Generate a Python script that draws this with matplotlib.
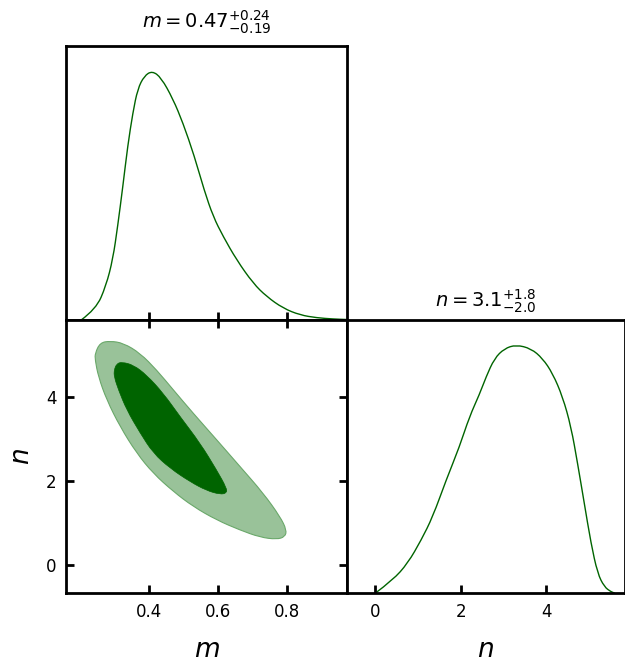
import numpy as np
import matplotlib
matplotlib.use("Agg")
import matplotlib.pyplot as plt
from matplotlib.path import Path
from matplotlib.patches import PathPatch

# 1D marginal of m (normalised to peak = 1)
m_grid = [0.203, 0.246, 0.275, 0.295, 0.309, 0.324, 0.338, 0.353, 0.367, 0.386,
          0.409, 0.435, 0.469, 0.498, 0.531, 0.560, 0.586, 0.615, 0.654,
          0.702, 0.741, 0.789, 0.838, 0.886, 0.934, 0.973]
m_dens = [0.0, 0.044, 0.137, 0.245, 0.378, 0.538, 0.699, 0.833, 0.928, 0.980,
          1.0, 0.973, 0.888, 0.792, 0.659, 0.520, 0.415, 0.335, 0.241,
          0.147, 0.094, 0.047, 0.020, 0.009, 0.004, 0.002]

# 1D marginal of n
n_grid = [0.0, 0.405, 0.756, 1.069, 1.340, 1.654, 1.965, 2.199, 2.433, 2.59,
          2.784, 3.018, 3.291, 3.642, 3.913, 4.147, 4.381, 4.578, 4.732, 4.889,
          5.046, 5.200, 5.357, 5.513, 5.60]
n_dens = [0.0, 0.052, 0.120, 0.213, 0.307, 0.455, 0.589, 0.710, 0.80, 0.871,
          0.945, 0.985, 1.0, 0.985, 0.945, 0.885, 0.791, 0.670, 0.522, 0.361,
          0.200, 0.079, 0.025, 0.005, 0.0]

# 2D contours (95% outer, 68% inner), boundary points in (m, n)
outer_m = [0.2435, 0.258, 0.287, 0.3255, 0.374, 0.422, 0.470, 0.528, 0.596, 0.664,
           0.731, 0.780, 0.799, 0.794, 0.770, 0.722, 0.664, 0.596, 0.528, 0.470,
           0.412, 0.364, 0.316, 0.277, 0.253, 0.2435]
outer_n = [5.04, 5.29, 5.33, 5.28, 5.04, 4.64, 4.17, 3.61, 2.98, 2.34,
           1.71, 1.15, 0.83, 0.67, 0.61, 0.66, 0.83, 1.07, 1.39, 1.75,
           2.18, 2.66, 3.29, 3.93, 4.48, 4.88]
inner_m = [0.2986, 0.306, 0.321, 0.3545, 0.393, 0.441, 0.490, 0.548, 0.596, 0.625,
           0.625, 0.606, 0.567, 0.519, 0.461, 0.412, 0.374, 0.335, 0.311, 0.2986]
inner_n = [4.64, 4.79, 4.83, 4.76, 4.52, 4.09, 3.53, 2.90, 2.26, 1.83,
           1.71, 1.68, 1.77, 1.98, 2.30, 2.66, 3.14, 3.69, 4.17, 4.48]

m_lim = (0.159, 0.974)
n_lim = (-0.667, 5.83)
m_ticks = [0.4, 0.6, 0.8]
n_ticks = [0, 2, 4]

title_m = r"$m = 0.47^{+0.24}_{-0.19}$"
title_n = r"$n = 3.1^{+1.8}_{-2.0}$"

green = "#006400"


def smooth_path(x, y, closed=False):
    # quadratic bezier through midpoints, the read points act as control points
    pts = np.column_stack([x, y]).astype(float)
    if closed:
        pts = np.vstack([pts, pts[:2]])
        verts = [(pts[0] + pts[1]) / 2]
    else:
        verts = [pts[0]]
    codes = [Path.MOVETO]
    for i in range(1, len(pts) - 1):
        verts += [pts[i], (pts[i] + pts[i + 1]) / 2]
        codes += [Path.CURVE3, Path.CURVE3]
    if not closed:
        verts.append(pts[-1])
        codes.append(Path.LINETO)
    return Path(verts, codes)


fig = plt.figure(figsize=(6.25, 6.62), dpi=100)
ax_m = fig.add_axes([0.1056, 0.5166, 0.4496, 0.4139])
ax_2d = fig.add_axes([0.1056, 0.1042, 0.4496, 0.4124])
ax_n = fig.add_axes([0.5552, 0.1042, 0.4440, 0.4124])

for ax in (ax_m, ax_2d, ax_n):
    for sp in ax.spines.values():
        sp.set_linewidth(2)
    ax.tick_params(direction="in", length=6, width=2, labelsize=12, pad=7)

# top-left: m marginal
ax_m.add_patch(PathPatch(smooth_path(m_grid, m_dens), fill=False, edgecolor=green, lw=1))
ax_m.set_xlim(m_lim)
ax_m.set_ylim(0, 1.1)
ax_m.set_yticks([])
ax_m.set_xticks(m_ticks)
ax_m.tick_params(labelbottom=False)
ax_m.set_title(title_m, fontsize=14, pad=13)

# bottom-left: 2D contours
ax_2d.add_patch(PathPatch(smooth_path(outer_m, outer_n, closed=True),
                          facecolor="#99c299", edgecolor="#6aa86a", lw=0.8))
ax_2d.add_patch(PathPatch(smooth_path(inner_m, inner_n, closed=True),
                          facecolor=green, edgecolor=green, lw=0.5))
ax_2d.set_xlim(m_lim)
ax_2d.set_ylim(n_lim)
ax_2d.set_xticks(m_ticks)
ax_2d.set_yticks(n_ticks)
ax_2d.tick_params(top=True, right=True)
ax_2d.set_xlabel(r"$m$", fontsize=19, labelpad=12)
ax_2d.set_ylabel(r"$n$", fontsize=19, labelpad=8)

# bottom-right: n marginal
ax_n.add_patch(PathPatch(smooth_path(n_grid, n_dens), fill=False, edgecolor=green, lw=1))
ax_n.set_xlim(n_lim)
ax_n.set_ylim(0, 1.1)
ax_n.set_yticks([])
ax_n.set_xticks(n_ticks)
ax_n.set_xlabel(r"$n$", fontsize=19, labelpad=12)
ax_n.set_title(title_n, fontsize=14, pad=9)

fig.savefig("out.png", dpi=100)
